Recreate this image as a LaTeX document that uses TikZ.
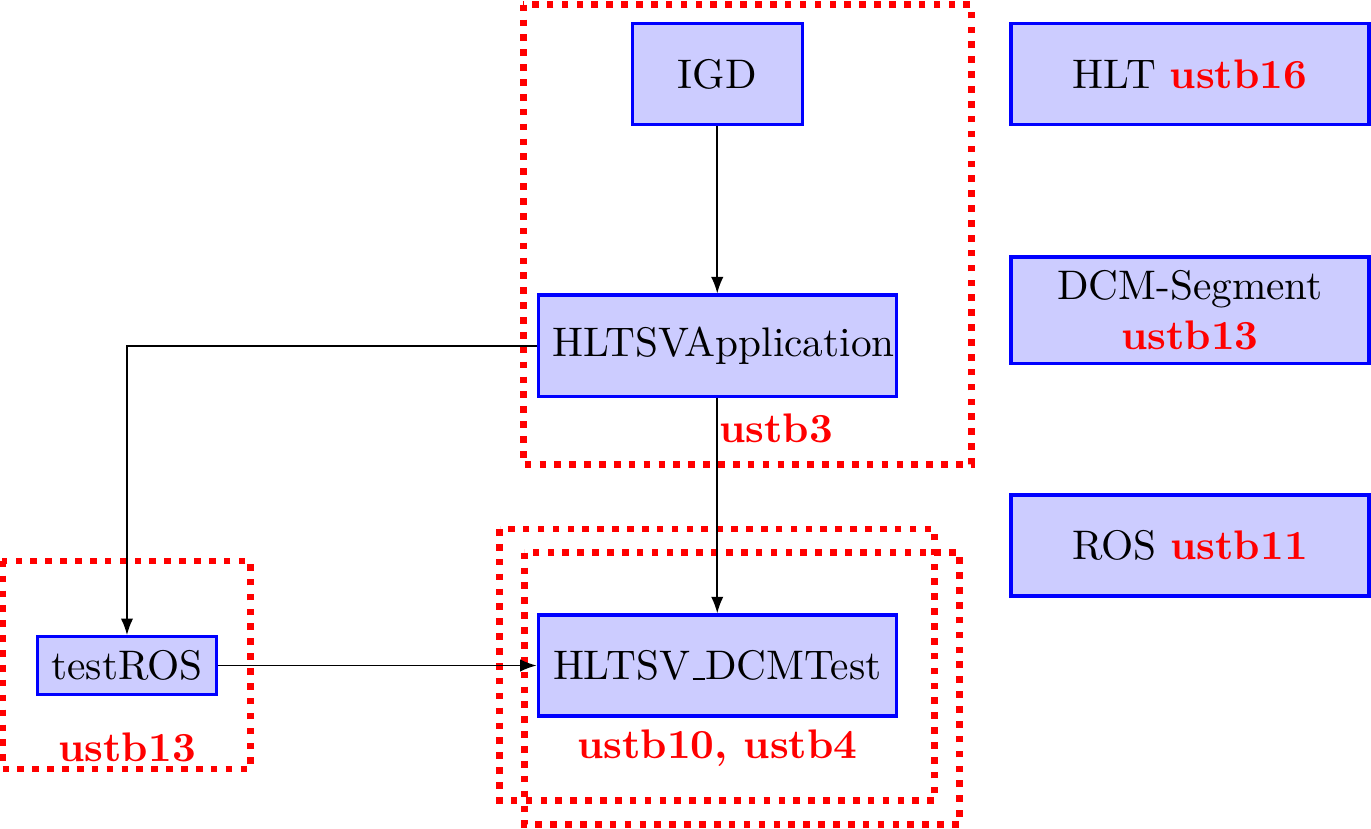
\documentclass[tikz,border=0pt]{standalone}
\usepackage{xcolor}
\usepackage{tikz}
\usetikzlibrary{arrows.meta,positioning,calc}

\begin{document}
\begin{tikzpicture}[
    appbox/.style={draw=blue, thick, fill=blue!20, text width=2.81cm, minimum height=0.86cm, align=center},
    smallbox/.style={draw=blue, thick, fill=blue!20},
    hostbox/.style={draw=red, ultra thick, dotted},
    hostlabel/.style={red, font=\bfseries, anchor=base},
    link/.style={-{Latex[length=4pt,width=3pt]}}
]
    \useasboundingbox (0,0) rectangle (11.66,-7.05);

    % Applications
    \node[appbox, text width=1.21cm] (igd) at (6.10,-0.63) {IGD};
    \node[appbox] (hltsv) at (6.10,-2.94) {HLTSVApplication};
    \node[appbox] (dcmtest) at (6.10,-5.66) {HLTSV\kern.06em\vbox{\hrule width.3em}DCMTest};
    \node[smallbox] (testros) at (1.08,-5.66) {testROS};

    % Segments (right column)
    \node[appbox] (hlt) at (10.12,-0.63) {HLT \textcolor{red}{\textbf{ustb16}}};
    \node[appbox] (dcmseg) at (10.12,-2.64) {DCM-Segment\\\textcolor{red}{\textbf{ustb13}}};
    \node[appbox] (ros) at (10.12,-4.64) {ROS \textcolor{red}{\textbf{ustb11}}};

    % Hosts
    \draw[hostbox] (4.45,-0.04) rectangle (8.26,-3.95);
    \draw[hostbox] (4.25,-4.50) rectangle (7.95,-6.81);
    \draw[hostbox] (4.46,-4.70) rectangle (8.16,-7.01);
    \draw[hostbox] (0.02,-4.77) rectangle (2.13,-6.54);
    \node[hostlabel] (hostthree) at (6.60,-3.76) {ustb3};
    \node[hostlabel] (hostten) at (6.10,-6.45) {ustb10, ustb4};
    \node[hostlabel] (hostthirteen) at (1.08,-6.48) {ustb13};

    % Connections
    \draw[link] (igd) -- (hltsv);
    \draw[link] (hltsv) -- (dcmtest);
    \draw[link] (hltsv.west) -| (testros.north);
    \draw[link] (testros) -- (dcmtest);
\end{tikzpicture}
\end{document}
